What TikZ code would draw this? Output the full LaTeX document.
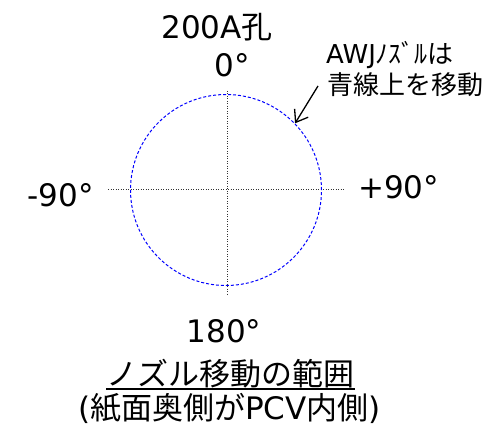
\documentclass[tikz,border=0pt]{standalone}
\usepackage{fontspec}
\setmainfont{DejaVu Sans}
\newfontfamily\cjk{Noto Sans CJK JP}
\usetikzlibrary{arrows.meta}
\begin{document}
\begin{tikzpicture}[x=1pt,y=-1pt,
  big/.style={inner sep=0pt,font=\fontsize{31}{37}\selectfont},
  small/.style={inner sep=0pt,font=\fontsize{26}{31}\selectfont},
  guide/.style={line width=0.7pt,dash pattern=on 1pt off 1.5pt,black!80},
  path/.style={draw=blue,line width=1pt,dash pattern=on 3pt off 2pt,circle,inner sep=0pt,minimum size=191pt}]
\useasboundingbox (0,0) rectangle (502,427);
% crosshair
\coordinate (hl) at (108,189);
\coordinate (hr) at (344,189);
\coordinate (vt) at (227,91);
\coordinate (vb) at (227,295);
\draw[guide] (hl) -- (hr);
\draw[guide] (vt) -- (vb);
% circle
\node[path] (c) at (226,190) {};
% labels
\node[big,anchor=base] (hole) at (217,39) {200A{\cjk 孔}};
\node[big,anchor=base] (z) at (232,77) {0°};
\node[big,anchor=base] (m90) at (60.5,207) {-90°};
\node[big,anchor=base] (p90) at (398.5,199) {+90°};
\node[big,anchor=base] (b180) at (224,342) {180°};
\node[big,anchor=base] (title) at (230.5,385) {\cjk ノズル移動の範囲};
\draw[line width=1.2pt] ([yshift=-4pt]title.base west) -- ([yshift=-4pt]title.base east);
\node[big,anchor=base] (note) at (229.5,419) {({\cjk 紙面奥側が}PCV{\cjk 内側})};
\node[small,anchor=base west] (a1) at (326,64) {AWJ{\cjk ﾉｽﾞﾙは}};
\node[small,anchor=base west] (a2) at (327,95) {\cjk 青線上を移動};
\coordinate (as) at (318,86);
\draw[line width=1.3pt,-{Straight Barb[length=11pt,width=16pt]}] (as) -- (c.44);
\end{tikzpicture}
\end{document}
